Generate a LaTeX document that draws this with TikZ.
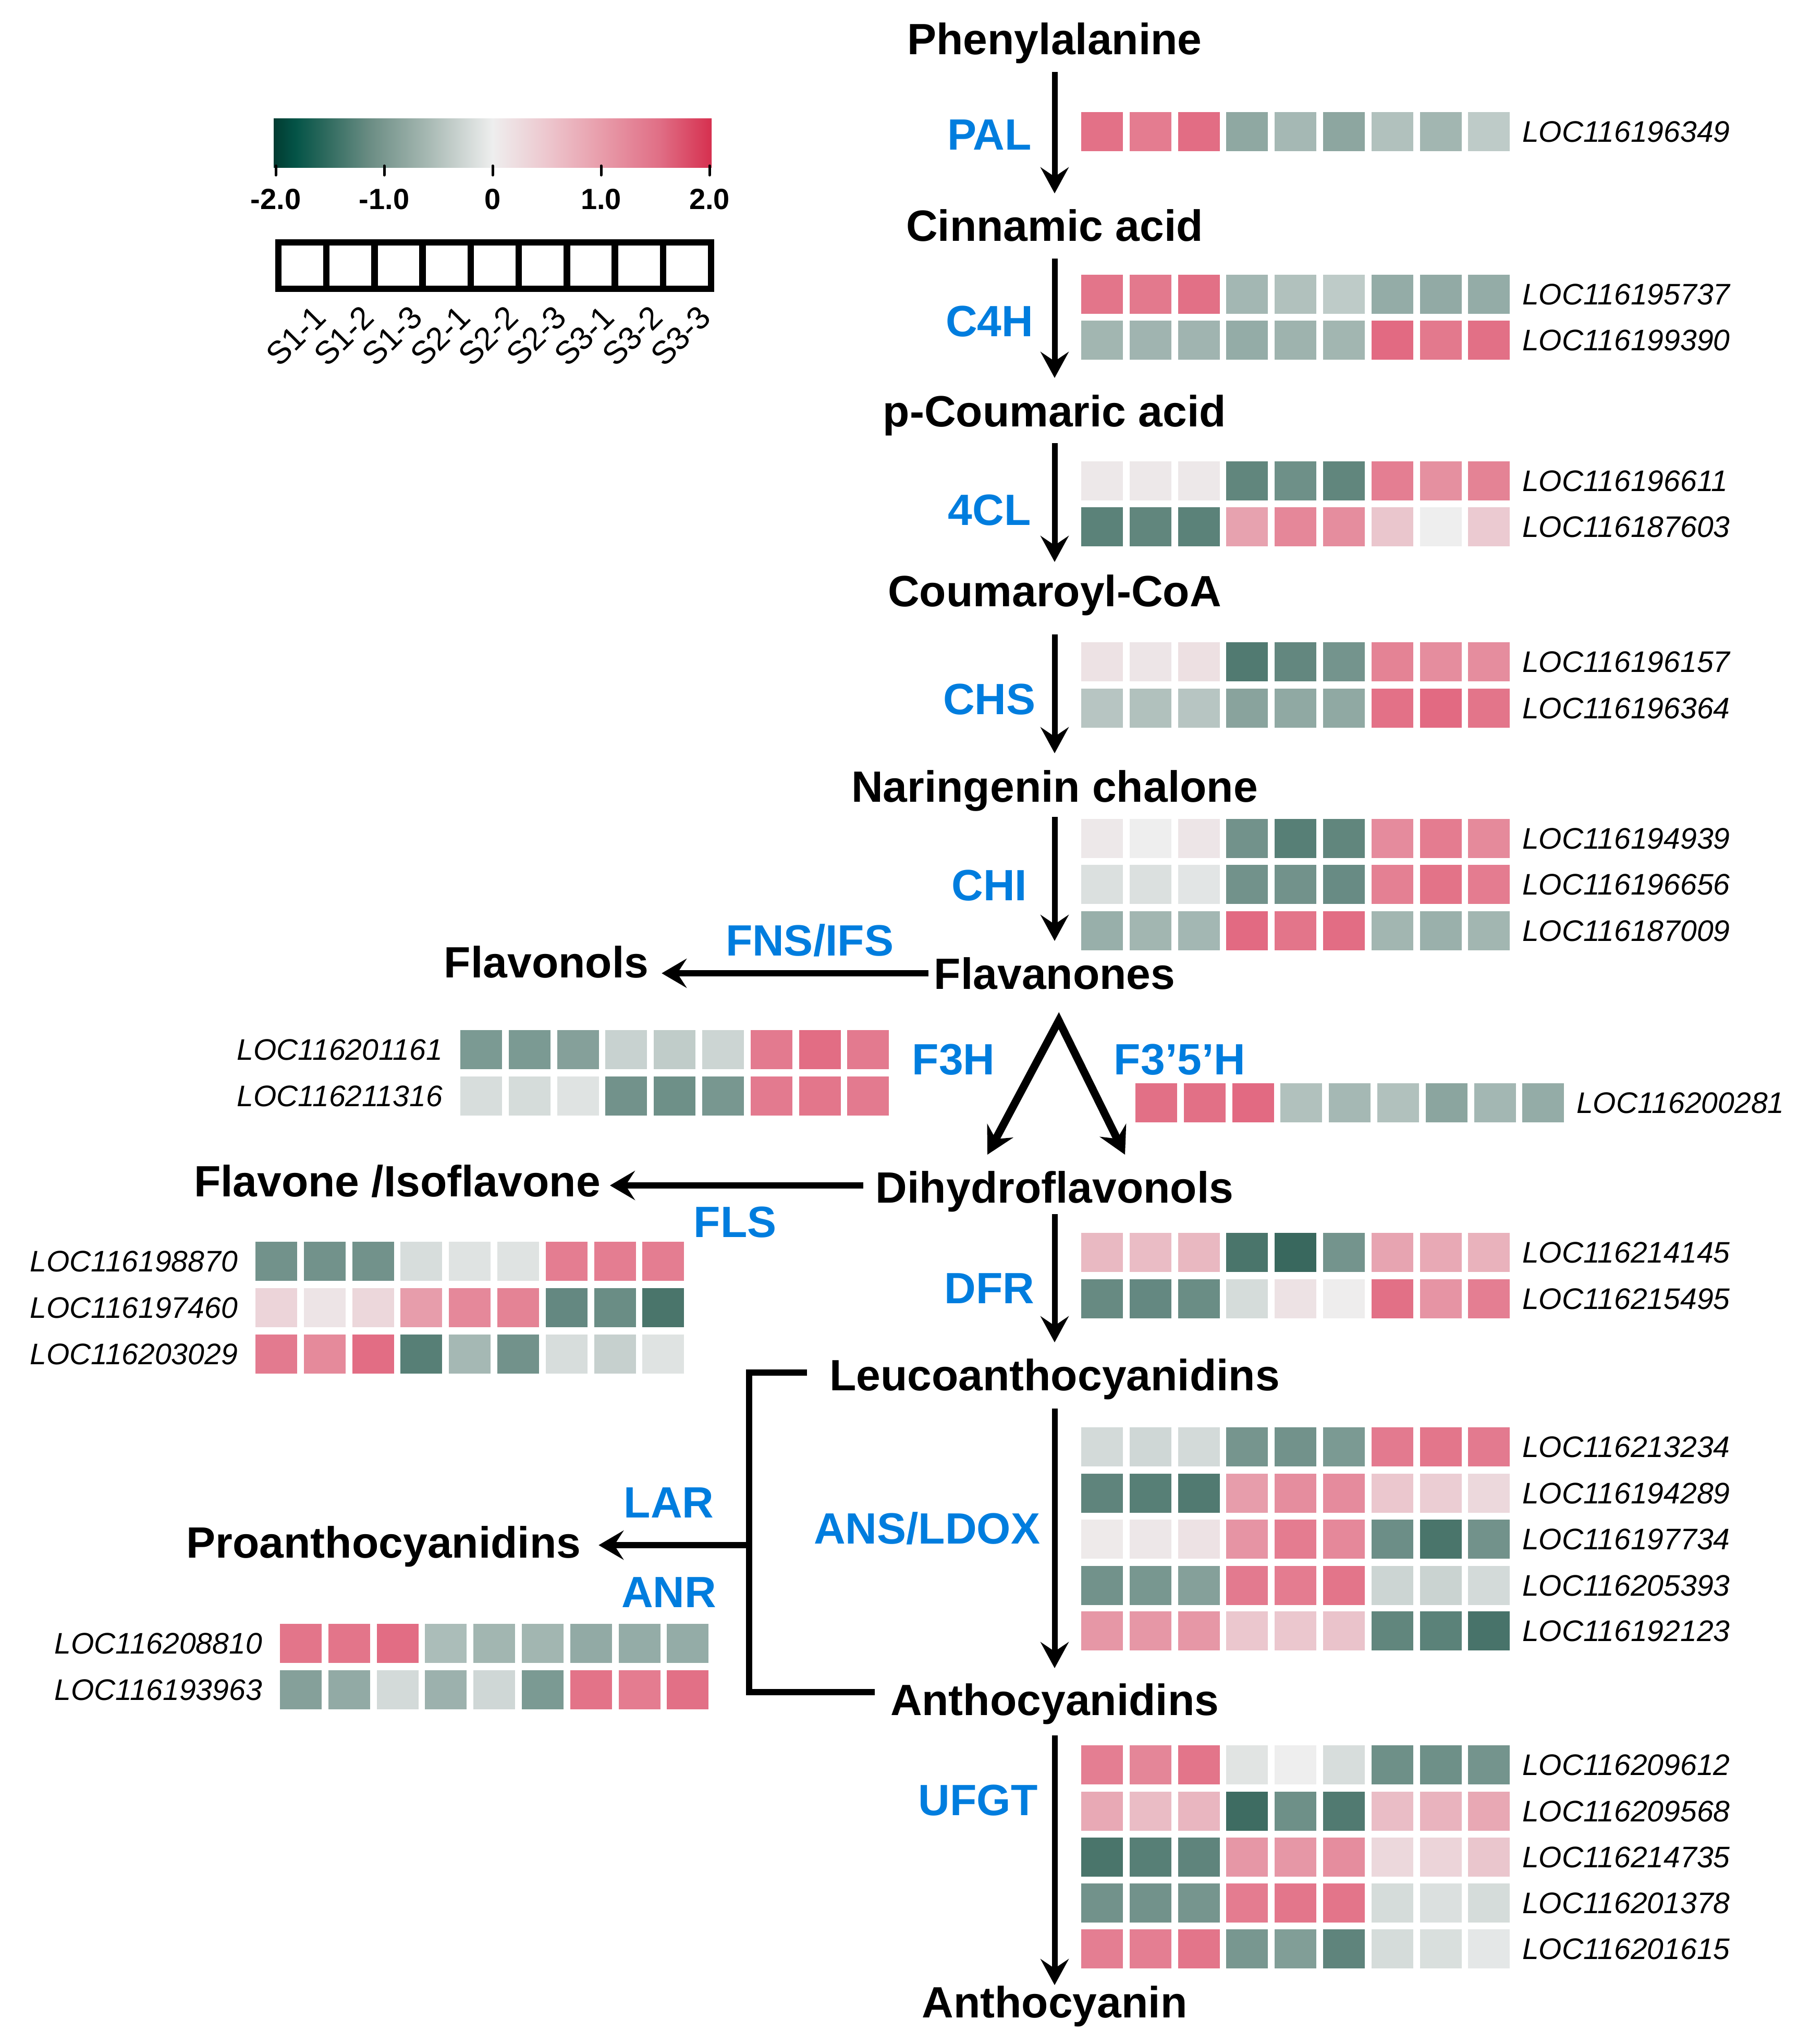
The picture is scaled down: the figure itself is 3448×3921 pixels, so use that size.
\documentclass[tikz,border=0pt]{standalone}
\usepackage{fontspec}
\setmainfont{Liberation Sans}
\usetikzlibrary{arrows.meta,calc}
\definecolor{mw}{RGB}{238,238,238}
\definecolor{dg}{RGB}{47,97,86}
\definecolor{rd}{RGB}{225,95,120}
\definecolor{enzblue}{RGB}{0,125,222}
\definecolor{lg0}{HTML}{013B31}
\definecolor{lg1}{HTML}{045447}
\definecolor{lg2}{HTML}{2E6A5E}
\definecolor{lg3}{HTML}{6B8D84}
\definecolor{lg4}{HTML}{A6B8B2}
\definecolor{lg5}{HTML}{EEEEEE}
\definecolor{lg6}{HTML}{EDC8CF}
\definecolor{lg7}{HTML}{E89CAA}
\definecolor{lg8}{HTML}{E06F86}
\definecolor{lg9}{HTML}{D6304F}
\pgfdeclarehorizontalshading{lgbar}{100bp}{color(0bp)=(lg0); color(25bp)=(lg0); color(27.5bp)=(lg1); color(31bp)=(lg2); color(36bp)=(lg3); color(42.5bp)=(lg4); color(50bp)=(lg5); color(56bp)=(lg6); color(62.5bp)=(lg7); color(69bp)=(lg8); color(75bp)=(lg9); color(100bp)=(lg9)}
\tikzset{
  cpd/.style={font=\fontsize{84}{90}\selectfont\bfseries, inner sep=0pt, anchor=base},
  enz/.style={font=\fontsize{84}{90}\selectfont\bfseries, text=enzblue, inner sep=0pt, anchor=base},
  loc/.style={font=\fontsize{57}{60}\selectfont\itshape, inner sep=0pt},
  tick/.style={font=\fontsize{56}{60}\selectfont\bfseries, inner sep=0pt, anchor=base},
  samp/.style={font=\fontsize{62}{66}\selectfont, inner sep=0pt},
  varr/.style={line width=11pt, -{Stealth[length=50pt,width=54pt,inset=18pt]}},
  harr/.style={line width=12pt, -{Stealth[length=48pt,width=56pt,inset=18pt]}},
  darr/.style={line width=15pt, line join=miter, {Stealth[length=52pt,width=56pt,inset=18pt]}-{Stealth[length=52pt,width=56pt,inset=18pt]}},
  brk/.style={line width=12pt, line join=miter},
}
\newcommand\hmR[4]{%
  \foreach \v [count=\i from 0] in {#3} {%
    \pgfmathsetmacro\hvA{abs(\v)}%
    \ifdim \v pt<0pt \def\hvC{dg}\else\def\hvC{rd}\fi
    \fill[\hvC!\hvA!mw] (#1+\i*92.8,#2) rectangle ++(80,75);
  }
  \node[loc,anchor=west] (L#4) at (#1+846,#2+38) {LOC#4};
}
\newcommand\hmL[4]{%
  \foreach \v [count=\i from 0] in {#3} {%
    \pgfmathsetmacro\hvA{abs(\v)}%
    \ifdim \v pt<0pt \def\hvC{dg}\else\def\hvC{rd}\fi
    \fill[\hvC!\hvA!mw] (#1+\i*92.8,#2) rectangle ++(80,75);
  }
  \node[loc,anchor=east] (L#4) at (#1-34,#2+38) {LOC#4};
}
\begin{document}
\begin{tikzpicture}[x=1pt,y=-1pt]
\useasboundingbox (0,0) rectangle (3448,3921);
\fill[white] (0,0) rectangle (3448,3921);

% ---------- legend ----------
\shade[shading=lgbar] (525,227) rectangle (1365,321);
\foreach \t [count=\k from 0] in {-2.0,-1.0,0,1.0,2.0} {
  \draw[line width=5pt, line cap=round] (529+\k*208,318) -- (529+\k*208,336);
  \node[tick] (tk\k) at (529+\k*208,401) {\t};
}
\draw[line width=12.5pt] (534,465) rectangle (1364,554);
\foreach \k in {1,...,8} \draw[line width=12.5pt] (534+\k*92.22,465) -- (534+\k*92.22,554);
\foreach \s [count=\k from 0] in {S1-1,S1-2,S1-3,S2-1,S2-2,S2-3,S3-1,S3-2,S3-3} {
  \node[samp, rotate=45, anchor=east] (sl\k) at (534+\k*92.22+80,598) {\s};
}

% ---------- compounds ----------
\node[cpd] (phe) at (2023,104) {Phenylalanine};
\node[cpd] (cin) at (2023,462) {Cinnamic acid};
\node[cpd] (pco) at (2023,818) {p-Coumaric acid};
\node[cpd] (cou) at (2023,1163) {Coumaroyl-CoA};
\node[cpd] (nar) at (2023,1538) {Naringenin chalone};
\node[cpd] (fla) at (2023,1897) {Flavanones};
\node[cpd] (flo) at (1048,1875) {Flavonols};
\node[cpd] (dih) at (2023,2307) {Dihydroflavonols};
\node[cpd] (fiso) at (762,2295) {Flavone /Isoflavone};
\node[cpd] (leu) at (2023,2667) {Leucoanthocyanidins};
\node[cpd] (pro) at (736,2988) {Proanthocyanidins};
\node[cpd] (ant) at (2023,3290) {Anthocyanidins};
\node[cpd] (acn) at (2023,3870) {Anthocyanin};

% ---------- enzymes ----------
\node[enz] (ePAL) at (1898,287) {PAL};
\node[enz] (eC4H) at (1898,645) {C4H};
\node[enz] (e4CL) at (1898,1007) {4CL};
\node[enz] (eCHS) at (1898,1370) {CHS};
\node[enz] (eCHI) at (1898,1727) {CHI};
\node[enz] (eFNS) at (1553,1833) {FNS/IFS};
\node[enz] (eF3H) at (1829,2061) {F3H};
\node[enz] (eF35H) at (2263,2061) {F3’5’H};
\node[enz] (eFLS) at (1410,2373) {FLS};
\node[enz] (eDFR) at (1898,2500) {DFR};
\node[enz] (eLAR) at (1283,2911) {LAR};
\node[enz] (eANR) at (1283,3083) {ANR};
\node[enz] (eANS) at (1778,2961) {ANS/LDOX};
\node[enz] (eUFGT) at (1876,3482) {UFGT};

% ---------- arrows ----------
\draw[varr] ([yshift=-34pt]phe.base) -- ([yshift=91pt]cin.base);
\draw[varr] ([yshift=-34pt]cin.base) -- ([yshift=93pt]pco.base);
\draw[varr] ([yshift=-32pt]pco.base) -- ([yshift=85pt]cou.base);
\draw[varr] ([yshift=-54pt]cou.base) -- ([yshift=93pt]nar.base);
\draw[varr] ([yshift=-29pt]nar.base) -- ([yshift=92pt]fla.base);
\draw[varr] ([yshift=-22pt]dih.base) -- ([yshift=92pt]leu.base);
\draw[varr] ([yshift=-35pt]leu.base) -- ([yshift=90pt]ant.base);
\draw[varr] ([yshift=-39pt]ant.base) -- ([yshift=62pt]acn.base);

\draw[darr] ([xshift=-129pt,yshift=92pt]dih.base) -- ([xshift=8pt,yshift=-61pt]fla.base) -- ([xshift=135pt,yshift=92pt]dih.base);

\draw[harr] ([xshift=-11pt]fla.west) coordinate (fnsS) -- ([xshift=25pt]fnsS -| flo.east);
\draw[harr] ([xshift=-24pt,yshift=33pt]dih.base -| dih.west) coordinate (flsS) -- ([xshift=18pt]flsS -| fiso.east);

\coordinate (brT) at ([xshift=-43pt,yshift=34pt]leu.base -| leu.west);
\coordinate (brB) at ([xshift=-30pt,yshift=44pt]ant.base -| ant.west);
\coordinate (brX) at (1437,2964);
\draw[brk] (brT) -- (brT -| brX) -- (brB -| brX) -- (brB);
\draw[harr] (brX) -- ([xshift=34pt]brX -| pro.east);

% ---------- heatmaps ----------
\hmR{2074}{215}{87,80,90,-50,-38,-51,-32,-40,-25}{116196349}
\hmR{2074}{527}{85,82,88,-39,-32,-25,-47,-48,-47}{116195737}
\hmR{2074}{615}{-40,-41,-41,-47,-42,-40,92,82,88}{116199390}
\hmR{2074}{885}{4,4,4,-74,-67,-74,78,66,75}{116196611}
\hmR{2074}{973}{-77,-74,-77,53,72,68,28,0,25}{116187603}
\hmR{2074}{1232}{8,6,10,-82,-73,-64,75,68,68}{116196157}
\hmR{2074}{1321}{-29,-32,-29,-53,-49,-49,87,92,85}{116196364}
\hmR{2074}{1571}{4,0,6,-65,-79,-74,69,80,70}{116194939}
\hmR{2074}{1659}{-10,-10,-6,-65,-65,-70,77,86,80}{116196656}
\hmR{2074}{1748}{-45,-40,-39,92,85,90,-40,-44,-40}{116187009}
\hmL{883}{1976}{-60,-60,-55,-20,-24,-18,81,90,81}{116201161}
\hmL{883}{2065}{-12,-13,-8,-65,-67,-62,81,84,81}{116211316}
\hmR{2178}{2078}{88,88,92,-32,-38,-32,-52,-39,-47}{116200281}
\hmL{490}{2382}{-65,-65,-65,-12,-8,-8,79,79,79}{116198870}
\hmL{490}{2471}{18,7,16,57,71,75,-72,-69,-86}{116197460}
\hmL{490}{2560}{81,70,90,-79,-38,-65,-12,-21,-8}{116203029}
\hmR{2074}{2365}{37,35,38,-86,-95,-64,52,48,42}{116214145}
\hmR{2074}{2454}{-71,-72,-69,-13,8,1,88,63,78}{116215495}
\hmR{2074}{2738}{-14,-16,-14,-63,-65,-60,81,84,81}{116213234}
\hmR{2074}{2827}{-75,-79,-82,57,68,69,27,23,15}{116194289}
\hmR{2074}{2915}{3,5,8,63,80,71,-68,-86,-65}{116197734}
\hmR{2074}{3004}{-65,-62,-55,81,80,85,-18,-19,-14}{116205393}
\hmR{2074}{3091}{61,61,61,27,27,30,-74,-77,-87}{116192123}
\hmL{537}{3115}{85,85,90,-35,-40,-40,-48,-47,-47}{116208810}
\hmL{537}{3204}{-55,-48,-14,-43,-16,-60,86,80,88}{116193963}
\hmR{2074}{3348}{78,73,85,-7,0,-12,-67,-67,-64}{116209612}
\hmR{2074}{3437}{48,35,39,-92,-67,-82,34,41,49}{116209568}
\hmR{2074}{3525}{-86,-79,-75,61,61,68,15,18,28}{116214735}
\hmR{2074}{3613}{-65,-65,-63,80,84,85,-13,-10,-13}{116201378}
\hmR{2074}{3701}{78,78,85,-62,-57,-75,-13,-11,-5}{116201615}
\end{tikzpicture}
\end{document}
